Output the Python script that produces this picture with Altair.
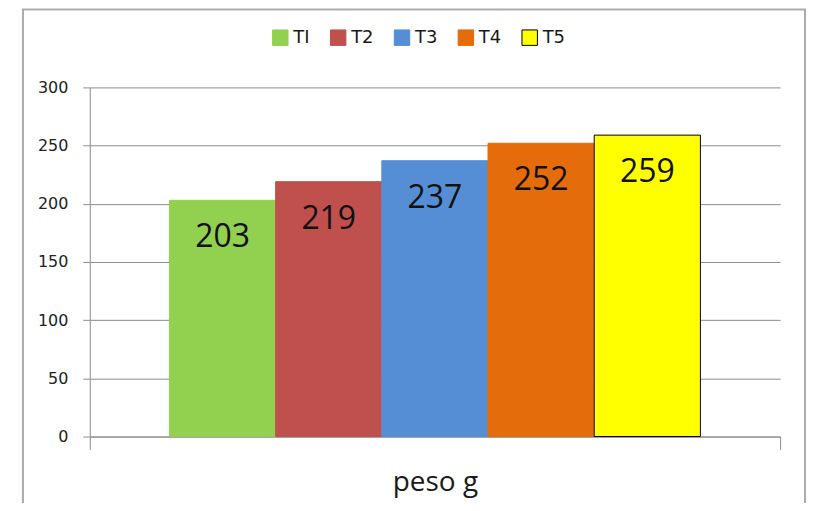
import altair as alt
import pandas as pd

series = ["TI", "T2", "T3", "T4", "T5"]
values = [203, 219, 237, 252, 259]
group = ["peso g"] * 5
colors = ["#92D050", "#C0504D", "#558ED5", "#E46C0A", "#FFFF00"]
strokes = ["#92D050", "#C0504D", "#558ED5", "#E46C0A", "#000000"]
y_ticks = [0, 50, 100, 150, 200, 250, 300]

df = pd.DataFrame({"group": group, "series": series, "value": values})

x_enc = alt.X(
    "group:N",
    title=None,
    scale=alt.Scale(paddingInner=0, paddingOuter=0),
    axis=alt.Axis(
        tickBand="extent",
        grid=False,
        tickSize=13,
        tickColor="#8C8C8C",
        domainColor="#8C8C8C",
        labelFont="Open Sans",
        labelFontSize=28,
        labelColor="#1a1a1a",
        labelPadding=19,
        labelAngle=0,
    ),
)
xoff_enc = alt.XOffset(
    "series:N",
    sort=series,
    scale=alt.Scale(paddingInner=0, paddingOuter=0.75),
)
y_enc = alt.Y(
    "value:Q",
    title=None,
    scale=alt.Scale(domain=[0, 300], nice=False),
    axis=alt.Axis(
        values=y_ticks,
        grid=True,
        gridColor="#8C8C8C",
        domainColor="#8C8C8C",
        tickColor="#8C8C8C",
        tickSize=7,
        labelFont="DejaVu Sans",
        labelFontSize=16,
        labelColor="#222222",
        labelPadding=15,
    ),
)

legend_cfg = dict(
    title=None,
    orient="none",
    direction="horizontal",
    legendX=182,
    legendY=-59,
    symbolType="square",
    symbolSize=240,
    symbolStrokeWidth=1,
    labelFont="DejaVu Sans",
    labelFontSize=18,
    labelColor="#1a1a1a",
    labelOffset=4,
    columnPadding=18,
    padding=0,
)

bars = alt.Chart(df).mark_bar(strokeWidth=1).encode(
    x=x_enc,
    xOffset=xoff_enc,
    y=y_enc,
    color=alt.Color(
        "series:N",
        sort=series,
        scale=alt.Scale(domain=series, range=colors),
        legend=alt.Legend(**legend_cfg),
    ),
    stroke=alt.Stroke(
        "series:N",
        sort=series,
        scale=alt.Scale(domain=series, range=strokes),
        legend=alt.Legend(**legend_cfg),
    ),
)

labels = alt.Chart(df).mark_text(
    font="Open Sans", fontSize=32, baseline="middle", dy=37, color="#111111"
).encode(
    x=alt.X("group:N"),
    xOffset=alt.XOffset("series:N", sort=series),
    y=alt.Y("value:Q"),
    text=alt.Text("value:Q"),
)

frame = alt.Chart(alt.Data(values=[{}])).mark_rect(
    fillOpacity=0, stroke="#ABABAB", strokeWidth=2
).encode(
    x=alt.value(-67), x2=alt.value(717), y=alt.value(-78), y2=alt.value(440)
)

chart = (
    alt.layer(frame, bars, labels)
    .properties(
        width=692,
        height=350,
        background="white",
        padding={"left": 82, "top": 79, "right": 27, "bottom": 66},
        autosize=alt.AutoSizeParams(type="none"),
    )
    .configure_view(strokeWidth=0, stroke="transparent")
    .configure_axisX(grid=False)
)

chart.save("out.html", embed_options={"renderer": "svg", "actions": False})
